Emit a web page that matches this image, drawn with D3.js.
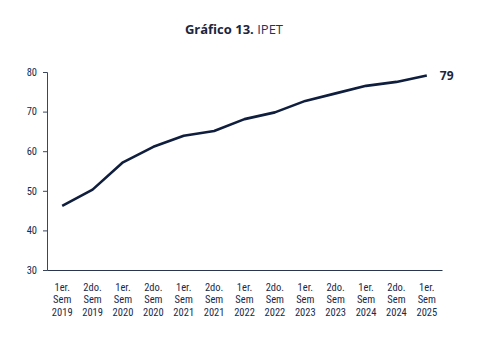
<!DOCTYPE html>
<html><head><meta charset="utf-8">
<script src="https://cdn.jsdelivr.net/npm/d3@7"></script>
<style>body{margin:0;background:#fff}svg{display:block}</style>
</head><body>
<svg id="c" width="481" height="345"></svg>
<script>
const categories = [
  ["1er.","Sem","2019"],["2do.","Sem","2019"],["1er.","Sem","2020"],["2do.","Sem","2020"],
  ["1er.","Sem","2021"],["2do.","Sem","2021"],["1er.","Sem","2022"],["2do.","Sem","2022"],
  ["1er.","Sem","2023"],["2do.","Sem","2023"],["1er.","Sem","2024"],["2do.","Sem","2024"],
  ["1er.","Sem","2025"]
];
const values = [46.2, 50.3, 57.2, 61.1, 63.9, 65.1, 68.1, 69.8, 72.7, 74.6, 76.5, 77.5, 79.1];
const yTicks = [30, 40, 50, 60, 70, 80];
const lastLabel = "79";

const navy = "#0f1e3d";
const font = "'Liberation Sans Narrow','Roboto Condensed','Roboto',sans-serif";
const svg = d3.select("#c");
const m = {l: 47, r: 442, t: 72, b: 270};

const x = d3.scaleBand().domain(d3.range(categories.length)).range([m.l, m.r]);
const y = d3.scaleLinear().domain([30, 80]).range([m.b, m.t]);

// title
const t = svg.append("text").attr("x", 234).attr("y", 34).attr("text-anchor", "middle")
  .attr("font-family", "'Open Sans','Noto Sans',sans-serif").attr("font-size", 13).attr("fill", "#1b2540");
t.append("tspan").attr("font-weight", "bold").text("Gráfico 13. ");
t.append("tspan").attr("fill", "#1f3560").text("IPET");

// y axis
const ya = svg.append("g").attr("transform", `translate(${m.l},0)`)
  .call(d3.axisLeft(y).tickValues(yTicks).tickSize(4).tickPadding(6));
ya.select(".domain").attr("stroke", "#3a4560");
ya.selectAll(".tick line").attr("stroke", "#3a4560");
ya.selectAll(".tick text").attr("font-family", font).attr("font-size", 10.5).attr("fill", "#1b2a4a");

// x axis
const xa = svg.append("g").attr("transform", `translate(0,${m.b})`)
  .call(d3.axisBottom(x).tickSize(0).tickFormat(""));
xa.select(".domain").attr("stroke", "#2a3550").attr("stroke-width", 1.2);
xa.selectAll(".tick").each(function(d) {
  const tx = d3.select(this).select("text").text(null).attr("dy", null)
    .attr("font-family", font).attr("font-size", 10.5).attr("fill", "#1b2a4a").attr("y", 0);
  categories[d].forEach((s, i) => {
    tx.append("tspan").attr("x", 0).attr("y", 17 + i * 12.5).attr("dy", "0.35em").text(s);
  });
});

// line
const line = d3.line().x((d, i) => x(i) + x.bandwidth() / 2).y(d => y(d));
svg.append("path").datum(values).attr("d", line)
  .attr("fill", "none").attr("stroke", navy).attr("stroke-width", 2.6)
  .attr("stroke-linejoin", "round");

// last label
const li = values.length - 1;
svg.append("text").attr("x", x(li) + x.bandwidth() / 2 + 13).attr("y", y(values[li]) + 4)
  .attr("font-family", "'Open Sans','Noto Sans',sans-serif").attr("font-weight", "bold")
  .attr("font-size", 12).attr("fill", "#1b2540").text(lastLabel);
</script>
</body></html>
